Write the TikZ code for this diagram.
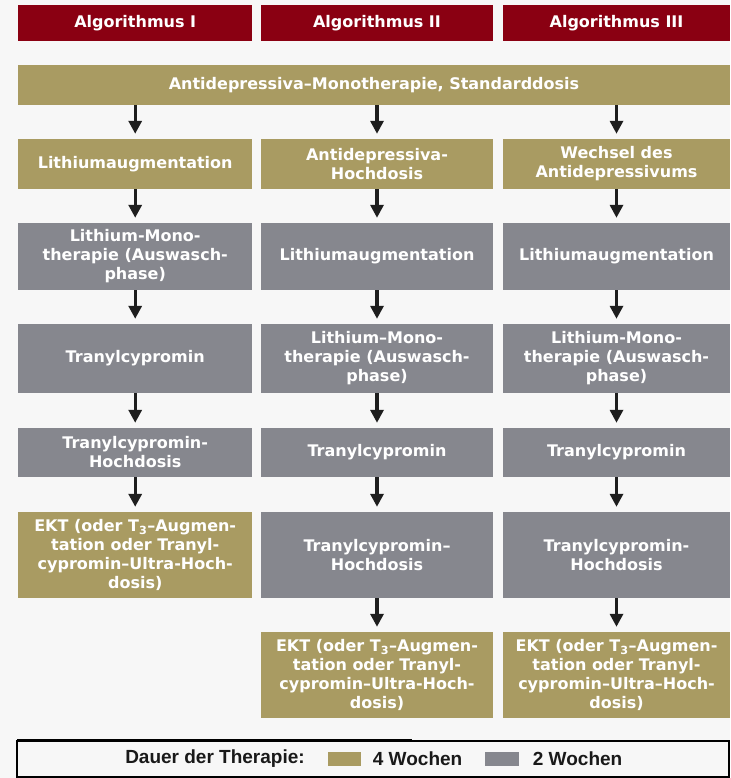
\documentclass[tikz,border=0pt]{standalone}
\usepackage{fontspec}
\setmainfont{DejaVu Sans}
\newfontfamily\legfont{Liberation Sans}
\usetikzlibrary{arrows.meta}
\definecolor{hdrred}{HTML}{8A0012}
\definecolor{olivebox}{HTML}{A99B62}
\definecolor{slatebox}{HTML}{86878E}
\definecolor{bgc}{HTML}{F7F7F7}
\definecolor{arrc}{HTML}{1E1E1E}
\begin{document}
\begin{tikzpicture}[x=1pt,y=-1pt,
 base/.style={rectangle, inner sep=0pt, align=center, text=white, font=\bfseries\fontsize{16}{19}\selectfont},
 hdr/.style={base, fill=hdrred},
 wkfour/.style={base, fill=olivebox},
 wktwo/.style={base, fill=slatebox},
 colA/.style={minimum width=234pt},
 colB/.style={minimum width=232pt},
 colC/.style={minimum width=227pt},
 arr/.style={draw=arrc, line width=3.2pt, -{Triangle[width=13pt,length=13pt]}, shorten >=5pt},
 leg/.style={inner sep=0pt, font=\legfont\bfseries\fontsize{19}{22}\selectfont, text=black!90}]

\fill[bgc] (0,0) rectangle (730,778);
\useasboundingbox (0,0) rectangle (730,778);

% headers
\node[hdr, colA, minimum height=36pt] (h1) at (135.2,23) {Algorithmus I};
\node[hdr, colB, minimum height=36pt] (h2) at (377,23) {Algorithmus II};
\node[hdr, colC, minimum height=36pt] (h3) at (616.5,23) {Algorithmus III};

% top bar
\node[wkfour, minimum width=712pt, minimum height=40pt] (top) at (374,85) {Antidepressiva–Monotherapie, Standarddosis};

% column 1
\node[wkfour, colA, minimum height=50pt] (a1) at (135.2,164) {Lithiumaugmentation};
\node[wktwo, colA, minimum height=67pt] (a2) at (135.2,256.5) {Lithium-Mono-\\therapie (Auswasch-\\phase)};
\node[wktwo, colA, minimum height=69pt] (a3) at (135.2,358.5) {Tranylcypromin};
\node[wktwo, colA, minimum height=49pt] (a4) at (135.2,452.5) {Tranylcypromin-\\Hochdosis};
\node[wkfour, colA, minimum height=86pt] (a5) at (135.2,555) {EKT (oder T\textsubscript{3}–Augmen-\\tation oder Tranyl-\\cypromin–Ultra-Hoch-\\dosis)};

% column 2
\node[wkfour, colB, minimum height=50pt] (b1) at (377,164) {Antidepressiva-\\Hochdosis};
\node[wktwo, colB, minimum height=67pt] (b2) at (377,256.5) {Lithiumaugmentation};
\node[wktwo, colB, minimum height=69pt] (b3) at (377,358.5) {Lithium–Mono-\\therapie (Auswasch-\\phase)};
\node[wktwo, colB, minimum height=49pt] (b4) at (377,452.5) {Tranylcypromin};
\node[wktwo, colB, minimum height=86pt] (b5) at (377,555) {Tranylcypromin–\\Hochdosis};
\node[wkfour, colB, minimum height=86pt] (b6) at (377,675) {EKT (oder T\textsubscript{3}–Augmen-\\tation oder Tranyl-\\cypromin–Ultra-Hoch-\\dosis)};

% column 3
\node[wkfour, colC, minimum height=50pt] (c1) at (616.5,164) {Wechsel des\\Antidepressivums};
\node[wktwo, colC, minimum height=67pt] (c2) at (616.5,256.5) {Lithiumaugmentation};
\node[wktwo, colC, minimum height=69pt] (c3) at (616.5,358.5) {Lithium-Mono-\\therapie (Auswasch-\\phase)};
\node[wktwo, colC, minimum height=49pt] (c4) at (616.5,452.5) {Tranylcypromin};
\node[wktwo, colC, minimum height=86pt] (c5) at (616.5,555) {Tranylcypromin-\\Hochdosis};
\node[wkfour, colC, minimum height=86pt] (c6) at (616.5,675) {EKT (oder T\textsubscript{3}–Augmen-\\tation oder Tranyl-\\cypromin–Ultra–Hoch-\\dosis)};

% arrows
\draw[arr] (top.south -| a1.north) -- (a1.north);
\draw[arr] (top.south -| b1.north) -- (b1.north);
\draw[arr] (top.south -| c1.north) -- (c1.north);
\foreach \p/\q in {a1/a2,a2/a3,a3/a4,a4/a5,b1/b2,b2/b3,b3/b4,b4/b5,b5/b6,c1/c2,c2/c3,c3/c4,c4/c5,c5/c6}
  \draw[arr] (\p.south) -- (\q.north);

% legend
\draw[line width=1.5pt] (17,741) rectangle (729,777);
\draw[line width=2.5pt] (17,740) -- (412,740);
\node[leg] (lt) at (215,759) {Dauer der Therapie:};
\node[fill=olivebox, minimum width=33pt, minimum height=14pt, inner sep=0pt] (s1) at (344.2,759) {};
\node[leg, anchor=west] (l1) at (372.7,759) {4 Wochen};
\node[fill=slatebox, minimum width=34pt, minimum height=14pt, inner sep=0pt] (s2) at (502,759) {};
\node[leg, anchor=west] (l2) at (532.7,759) {2 Wochen};
\end{tikzpicture}
\end{document}
